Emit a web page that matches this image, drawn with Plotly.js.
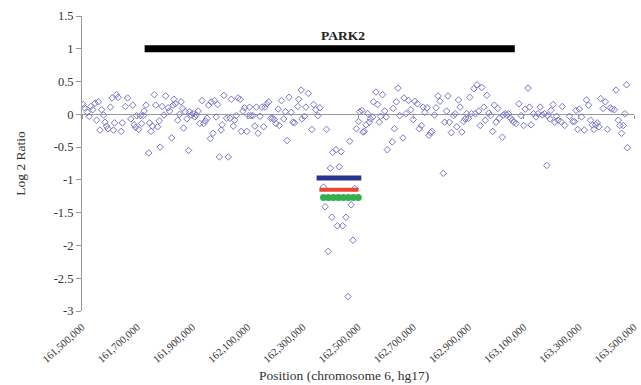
<!DOCTYPE html>
<html>
<head>
<meta charset="utf-8">
<script src="https://cdn.plot.ly/plotly-3.0.1.min.js"></script>
<style>
html,body{margin:0;padding:0;background:#fff;overflow:hidden;width:641px;height:385px}
#chart{width:641px;height:385px}
</style>
</head>
<body>
<div id="chart"></div>
<script>
// Probe positions (kb, chromosome 6, hg17) and log2 ratios
const probePosKb = [
161504,161509,161520,161526,161532,161539,161547,161553,161559,161565,161571,161578,161583,161589,161594,161603,161609,161614,161618,161625,161631,161642,161646,161657,161665,161677,161684,161689,161694,161698,161705,161712,161716,161722,161725,161732,161742,161745,161750,161755,161762,161767,161774,161780,161783,161790,161797,161803,161812,161817,161825,161830,
161833,161838,161847,161853,161859,161864,161868,161874,161880,161886,161890,161896,161902,161909,161914,161921,161927,161935,161941,161947,161953,161959,161965,161968,161975,161980,161986,161991,161998,162004,162008,162014,162024,162030,162036,162041,162048,162053,162059,162065,162073,162077,162083,162089,162097,162103,162107,162112,162119,162126,162132,162138,162145,162152,162158,162163,
162170,162176,162184,162191,162196,162203,162211,162215,162223,162231,162237,162243,162250,162258,162264,162270,162282,162285,162294,162297,162306,162311,162320,162333,162339,162347,162355,162362,162386,162400,162408,162420,162432,162439,162470,
162375,162381,162392,162405,162425,162444,162456,162464,162475,162482,162488,
162494,162502,162506,162514,162518,162523,162529,162535,162541,162545,162553,162556,162565,162571,162577,162582,162589,162597,162602,162606,162624,162627,162632,162639,162645,162651,162663,162667,162674,162683,162691,162700,162706,162715,162722,162730,162736,162742,162750,162757,162763,162768,162777,162783,162790,162797,162809,162814,162821,
162826,162831,162838,162846,162852,162858,162864,162870,162876,162882,162888,162894,162900,162905,162911,162920,162925,162931,162937,162943,162949,162956,162961,162967,162974,162980,162988,162994,163000,163006,163012,163023,163027,163033,163039,163045,163053,163059,163065,163073,163083,163091,163100,163106,163116,163121,163127,163136,163145,
163152,163160,163168,163176,163184,163187,163196,163199,163207,163213,163219,163225,163235,163240,163249,163266,163278,163284,163290,163296,163302,163310,163320,163328,163335,163343,163349,163355,163361,163367,163373,163379,163388,163396,163404,163414,163420,163429,163435,163443,163449,163455,163461,163467,163473,163476
];
const probeLog2 = [
0.15,0.10,0.03,-0.03,0.12,0.07,0.17,-0.09,0.19,-0.24,0.07,-0.01,-0.12,-0.18,-0.22,0.11,0.25,-0.24,-0.13,0.30,0.26,-0.26,-0.13,0.12,0.25,-0.07,0.14,-0.16,-0.20,-0.02,-0.23,-0.02,-0.14,-0.02,0.05,0.14,-0.59,-0.13,-0.26,-0.18,0.30,0.14,-0.19,-0.10,-0.50,0.12,-0.01,0.28,0.10,0.05,-0.36,0.14,
0.23,0.16,-0.09,0.00,0.19,0.09,-0.21,0.04,-0.07,-0.55,0.04,-0.01,0.01,-0.04,-0.01,0.05,-0.14,0.21,-0.14,-0.10,-0.06,0.14,-0.37,0.19,-0.29,0.21,-0.04,0.15,-0.65,-0.24,-0.16,0.29,-0.06,-0.65,-0.06,0.23,-0.18,-0.09,-0.02,0.25,0.23,-0.26,0.05,0.10,-0.26,-0.02,0.11,-0.02,-0.02,-0.18,0.11,-0.29,-0.03,0.11,-0.19,0.11,
0.16,0.19,-0.06,-0.06,-0.08,-0.14,0.08,-0.17,0.21,-0.07,0.04,-0.40,0.26,0.03,-0.12,-0.13,0.12,0.23,0.37,-0.07,-0.03,0.11,0.32,-0.23,0.15,0.07,-0.02,0.10,-0.23,-0.82,-0.58,-0.54,-0.80,-0.57,-0.41,
-1.11,-1.41,-2.09,-1.57,-1.70,-1.70,-1.57,-2.78,-1.38,-1.92,-1.13,
-0.22,-0.11,0.04,0.06,-0.27,-0.26,-0.16,0.01,-0.12,-0.07,-0.04,0.19,0.34,0.15,-0.12,-0.03,0.30,0.05,-0.04,-0.54,-0.42,0.09,-0.22,0.19,0.40,-0.02,-0.36,0.25,0.01,0.21,0.07,-0.08,0.20,0.16,-0.22,-0.17,0.11,0.03,0.10,-0.32,-0.28,-0.26,-0.01,0.10,0.28,0.20,-0.90,-0.12,0.05,
0.28,-0.12,-0.28,-0.02,0.01,-0.19,0.22,0.11,-0.27,-0.11,-0.07,0.01,-0.06,0.26,0.01,0.39,0.01,0.45,0.05,-0.17,0.41,0.11,-0.09,0.29,0.02,-0.02,-0.26,0.14,-0.12,0.09,-0.06,-0.35,-0.01,0.01,-0.01,0.01,-0.06,-0.09,-0.12,-0.14,0.16,-0.02,-0.17,0.08,0.40,0.11,-0.16,0.01,-0.04,
0.01,0.11,-0.01,0.01,-0.78,-0.02,-0.07,0.06,0.15,-0.12,-0.03,-0.09,-0.11,0.12,-0.17,-0.03,-0.11,-0.11,0.06,-0.23,0.08,-0.04,-0.24,0.22,0.14,-0.09,-0.16,-0.23,-0.16,-0.13,-0.19,0.24,0.09,0.19,-0.23,0.10,0.08,0.07,0.37,-0.09,-0.17,-0.29,-0.17,0.01,0.45,-0.51
];

// Gene annotation
const geneName = 'PARK2';
const geneSpanKb = [161727, 163068];
const geneLevel = [1, 1];
const geneLabelKb = [162445];

// Segmentation calls
const segBlueKb = [162350, 162512];
const segBlueLevel = [-0.97, -0.97];
const segRedKb = [162360, 162502];
const segRedLevel = [-1.15, -1.15];
const segGreenKb = [162375, 162393, 162411, 162429, 162447, 162465, 162483, 162501];
const segGreenLevel = [-1.27, -1.27, -1.27, -1.27, -1.27, -1.27, -1.27, -1.27];

// Axes
const xRange = [161500000, 163500000];
const xTickVals = [161500000,161700000,161900000,162100000,162300000,162500000,162700000,162900000,163100000,163300000,163500000];
const xTickText = ['161,500,000','161,700,000','161,900,000','162,100,000','162,300,000','162,500,000','162,700,000','162,900,000','163,100,000','163,300,000','163,500,000'];
const yRange = [-3, 1.5];
const yTickVals = [1.5, 1, 0.5, 0, -0.5, -1, -1.5, -2, -2.5, -3];
const yTickText = ['1.5', '1', '0.5', '0', '-0.5', '-1', '-1.5', '-2', '-2.5', '-3'];

const kb = a => a.map(v => v * 1000);
const serif = 'Liberation Serif, Times New Roman, serif';

const traces = [
  {
    x: kb(probePosKb), y: probeLog2, type: 'scatter', mode: 'markers',
    marker: {symbol: 'diamond-open', size: 5, color: '#7878c8', line: {width: 1, color: '#7878c8'}}
  },
  {
    x: kb(geneSpanKb), y: geneLevel, type: 'scatter', mode: 'lines',
    line: {color: '#000', width: 7}, xaxis: 'x2'
  },
  {
    x: kb(segBlueKb), y: segBlueLevel, type: 'scatter', mode: 'lines',
    line: {color: '#2a3590', width: 5}
  },
  {
    x: kb(segRedKb), y: segRedLevel, type: 'scatter', mode: 'lines',
    line: {color: '#ec4533', width: 4}
  },
  {
    x: kb(segGreenKb), y: segGreenLevel, type: 'scatter', mode: 'markers',
    marker: {symbol: 'circle', size: 7, color: '#2fb14e'}
  }
];

const zeroFrac = (0 - yRange[0]) / (yRange[1] - yRange[0]);

const layout = {
  width: 641, height: 385,
  margin: {l: 82, r: 7, t: 16, b: 74},
  paper_bgcolor: '#fff', plot_bgcolor: '#fff',
  showlegend: false,
  font: {family: serif, color: '#333', size: 12},
  xaxis: {
    range: xRange, tickvals: xTickVals, ticktext: xTickText,
    tickangle: -42, tickfont: {family: serif, size: 10.5, color: '#333'},
    ticklabeloverflow: 'allow',
    ticks: 'outside', ticklen: 5, tickcolor: 'rgba(0,0,0,0)',
    showgrid: false, zeroline: false, showline: false
  },
  xaxis2: {
    matches: 'x', overlaying: 'x', anchor: 'free', position: zeroFrac, side: 'bottom',
    tickvals: xTickVals, showticklabels: false,
    ticks: 'outside', ticklen: 4, tickcolor: '#999', tickwidth: 1,
    showgrid: false, zeroline: false, showline: false
  },
  yaxis: {
    range: yRange, tickvals: yTickVals, ticktext: yTickText,
    tickfont: {family: serif, size: 12.5, color: '#333'},
    ticks: 'outside', ticklen: 5, tickcolor: '#999', tickwidth: 1,
    showline: true, linecolor: '#999', linewidth: 1,
    zeroline: true, zerolinecolor: '#999', zerolinewidth: 1,
    showgrid: false,
    title: {text: 'Log 2 Ratio', font: {family: serif, size: 13.5, color: '#333'}, standoff: 24}
  },
  annotations: [
    {
      text: geneName, xref: 'x', yref: 'y', x: geneLabelKb[0] * 1000, y: geneLevel[0],
      xanchor: 'center', yanchor: 'bottom', yshift: 4, showarrow: false,
      font: {family: serif, size: 13.5, color: '#222', weight: 'bold'}
    },
    {
      text: 'Position (chromosome 6, hg17)', xref: 'paper', yref: 'paper',
      x: 0.475, y: -0.220, xanchor: 'center', yanchor: 'middle', showarrow: false,
      font: {family: serif, size: 13.5, color: '#333'}
    }
  ]
};

Plotly.newPlot('chart', traces, layout, {displayModeBar: false, staticPlot: true});
</script>
</body>
</html>
